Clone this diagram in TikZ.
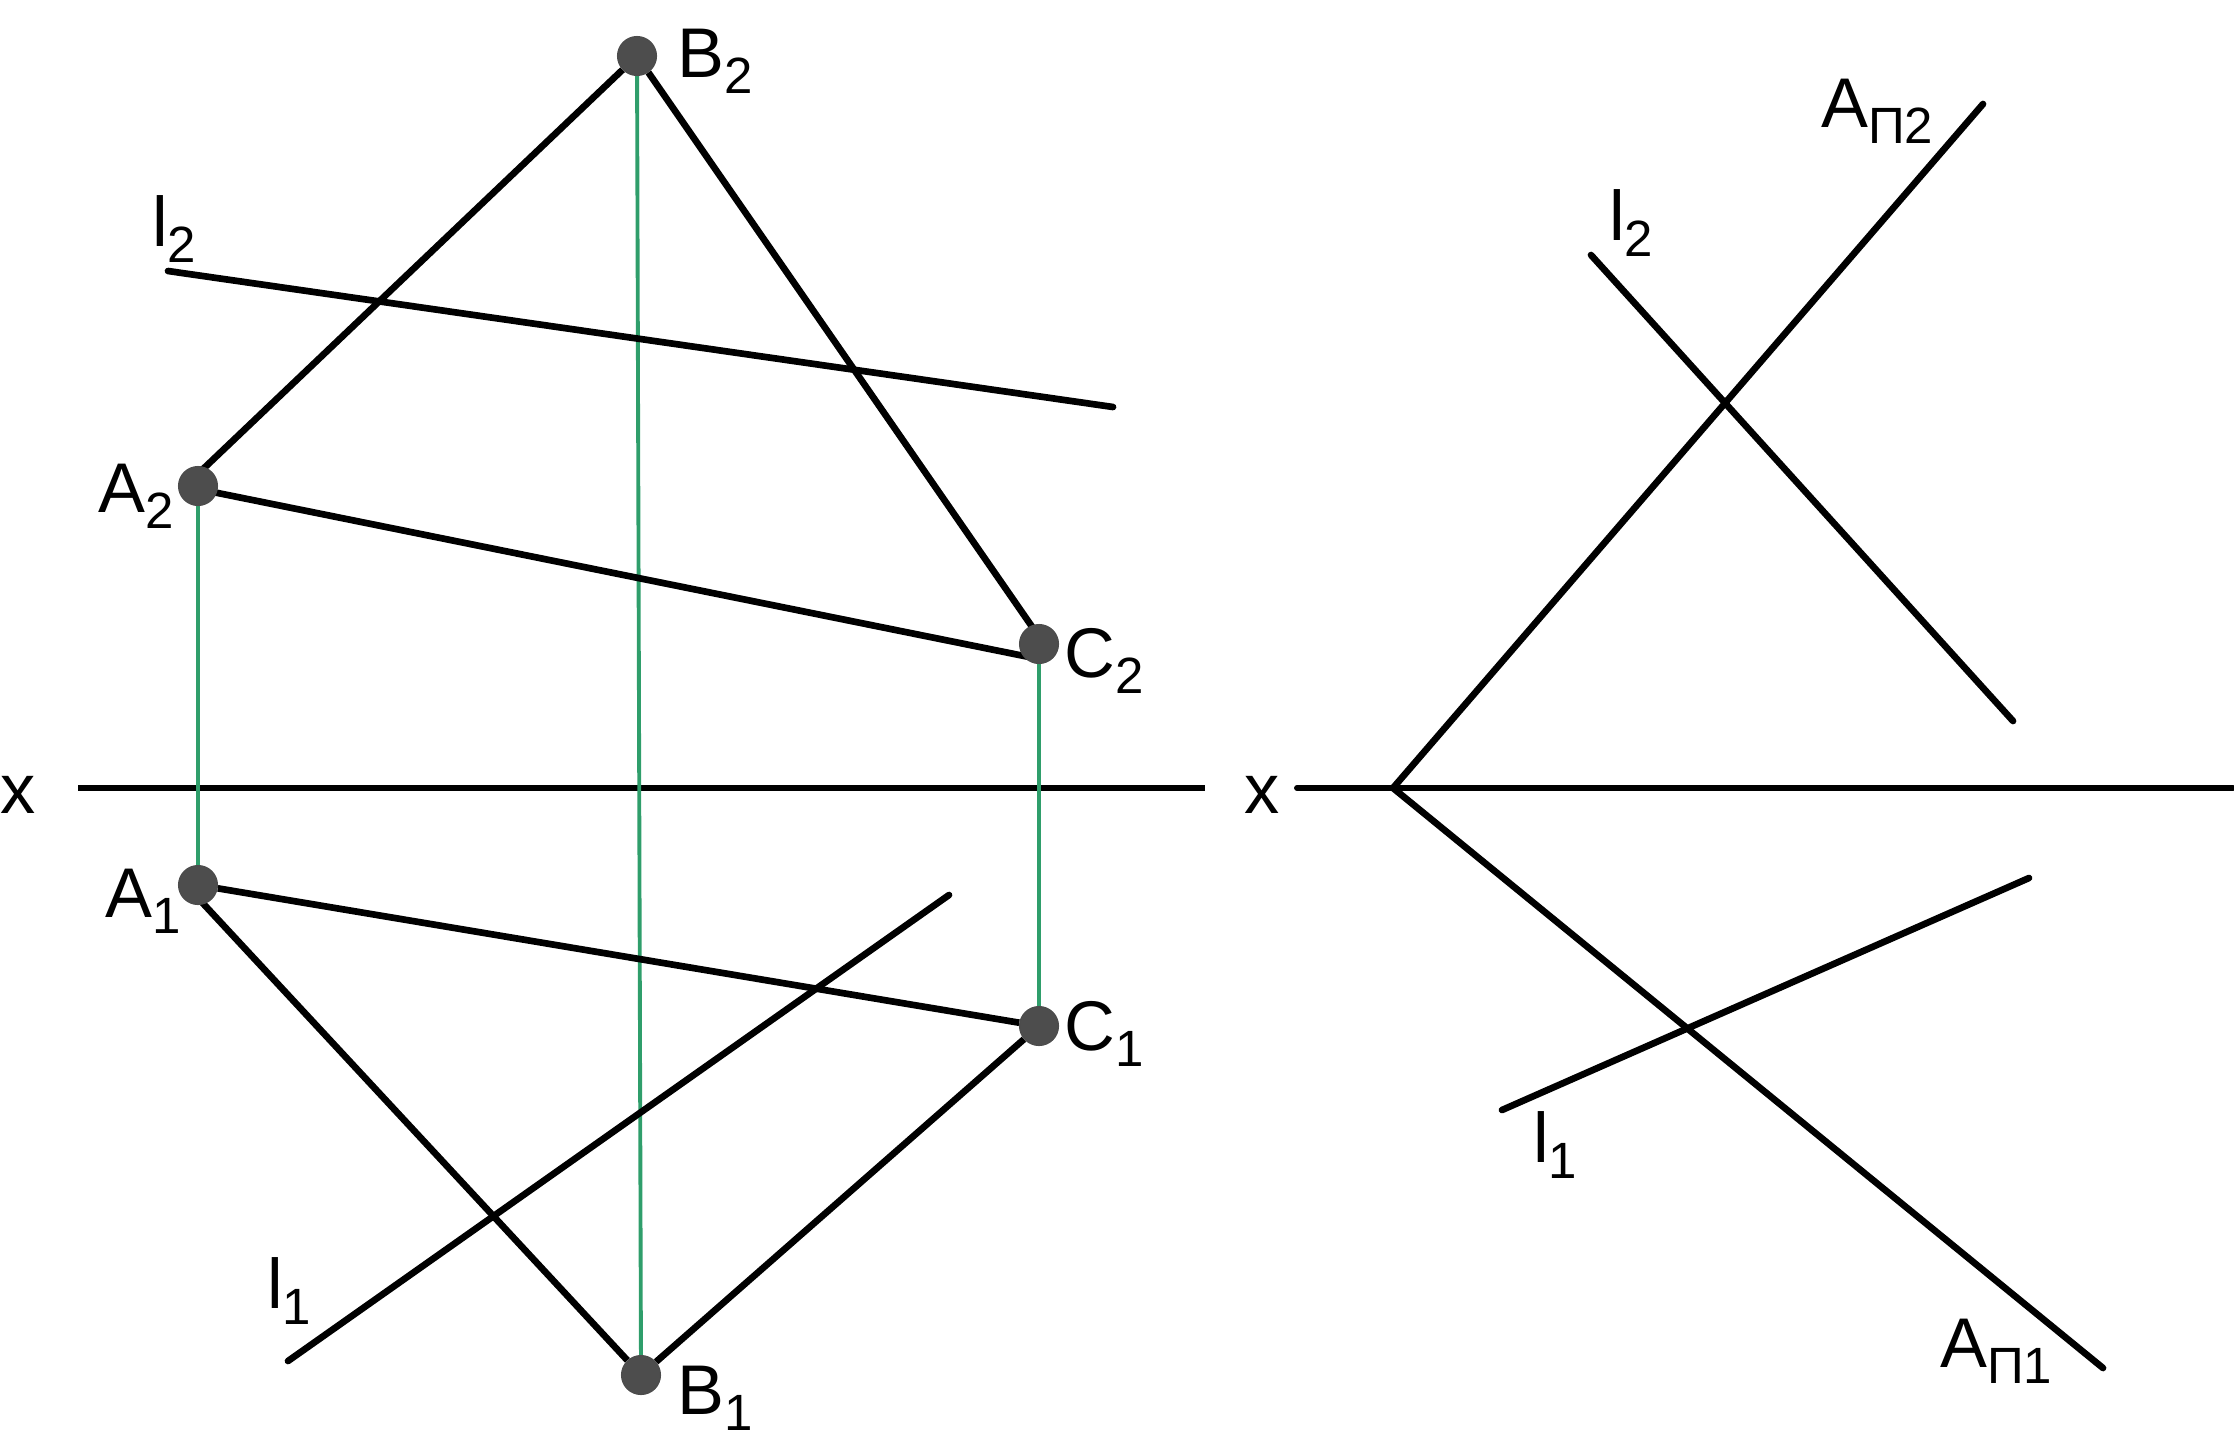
\documentclass[tikz,border=0pt]{standalone}
\usepackage{fontspec}
\setmainfont{Liberation Sans}
\usetikzlibrary{positioning, backgrounds}

\newcommand{\lowidx}[1]{\raisebox{-0.42ex}{\fontsize{14.5}{16}\selectfont #1}}

\begin{document}
\begin{tikzpicture}
[
    x = 0.01cm, y = -0.01cm,
    line cap = round,
    LineStyle/.style = {draw = black, line width = 1.9pt},
    AxisStyle/.style = {draw = black, line width = 1.7pt},
    LinkStyle/.style = {draw = linkgreen, line width = 1.1pt},
    PointStyle/.style = {shape = circle, draw = black!70, line width = 0.3pt, fill = pointgray, inner sep = 0pt, minimum size = 0.39cm},
    LabelStyle/.style = {inner sep = 0pt, font = \fontsize{20}{24}\selectfont}
  ]
  \definecolor{linkgreen}{HTML}{2F9E6B}
  \definecolor{pointgray}{HTML}{4D4D4D}
  \useasboundingbox (0,0) rectangle (2234,1439);

  % points of the triangle
  \node[PointStyle](B2) at (637,56){};
  \node[PointStyle](A2) at (198,486){};
  \node[PointStyle](C2) at (1039,644){};
  \node[PointStyle](A1) at (198,885){};
  \node[PointStyle](C1) at (1039,1026){};
  \node[PointStyle](B1) at (641,1375){};

  % the sides do not quite meet the centres
  \coordinate (A2t) at (201,471);
  \coordinate (A2r) at (198,489);
  \coordinate (C2l) at (1039,659);
  \coordinate (C2t) at (1044,644);
  \coordinate (A1b) at (198,898);

  % free ends
  \coordinate (l2a) at (168,271);
  \coordinate (l2b) at (1113,407);
  \coordinate (l1a) at (288,1361);
  \coordinate (l1b) at (949,895);
  \coordinate (xa) at (78,788);
  \coordinate (xb) at (1205,788);

  \coordinate (ya) at (1297,788);
  \coordinate (yb) at (2233,788);
  \coordinate (v) at (1393,788);
  \coordinate (p2) at (1983,104);
  \coordinate (p1) at (2103,1368);
  \coordinate (m2a) at (1591,255);
  \coordinate (m2b) at (2013,721);
  \coordinate (m1a) at (1502,1110);
  \coordinate (m1b) at (2029,878);

  % labels
  \node[LabelStyle, right= 0.2cm of B2, yshift=-0.05cm]{B\lowidx{2}};
  \node[LabelStyle, left= 0.03cm of A2, yshift=-0.1cm]{A\lowidx{2}};
  \node[LabelStyle, right= 0.05cm of C2, yshift=-0.17cm]{C\lowidx{2}};
  \node[LabelStyle, left= -0.04cm of A1, yshift=-0.16cm]{A\lowidx{1}};
  \node[LabelStyle, right= 0.05cm of C1, yshift=-0.08cm]{C\lowidx{1}};
  \node[LabelStyle, right= 0.16cm of B1, yshift=-0.23cm]{B\lowidx{1}};
  \node[LabelStyle, above= 0.08cm of l2a, xshift=0.06cm]{l\lowidx{2}};
  \node[LabelStyle, above left= 0.36cm and -0.24cm of l1a]{l\lowidx{1}};
  \node[LabelStyle, left= 0.42cm of xa, yshift=-0.07cm]{x};
  \node[LabelStyle, left= 0.17cm of ya, yshift=-0.07cm]{x};
  \node[LabelStyle, left= 0.49cm of p2, yshift=-0.07cm]{A\lowidx{П2}};
  \node[LabelStyle, above= -0.02cm of m2a, xshift=0.4cm]{l\lowidx{2}};
  \node[LabelStyle, below= 0.01cm of m1a, xshift=0.53cm]{l\lowidx{1}};
  \node[LabelStyle, left= 0.5cm of p1, yshift=0.17cm]{A\lowidx{П1}};

  \begin{scope}[on background layer]
  \draw[LineStyle](xa) to (xb);

  \draw[LinkStyle](A2) to (A1);
  \draw[LinkStyle](B2) to (B1);
  \draw[LinkStyle](C2) to (C1);

  \draw[LineStyle](A2t) to (B2);
  \draw[LineStyle](B2) to (C2t);
  \draw[LineStyle](A2r) to (C2l);
  \draw[LineStyle](A1b) to (B1);
  \draw[LineStyle](B1) to (C1);
  \draw[LineStyle](A1) to (C1);
  \end{scope}

  \draw[LineStyle](l2a) to (l2b);
  \draw[LineStyle](l1a) to (l1b);

  \draw[AxisStyle](ya) to (yb);
  \draw[LineStyle](v) to (p2);
  \draw[LineStyle](v) to (p1);
  \draw[LineStyle](m2a) to (m2b);
  \draw[LineStyle](m1a) to (m1b);
\end{tikzpicture}
\end{document}
